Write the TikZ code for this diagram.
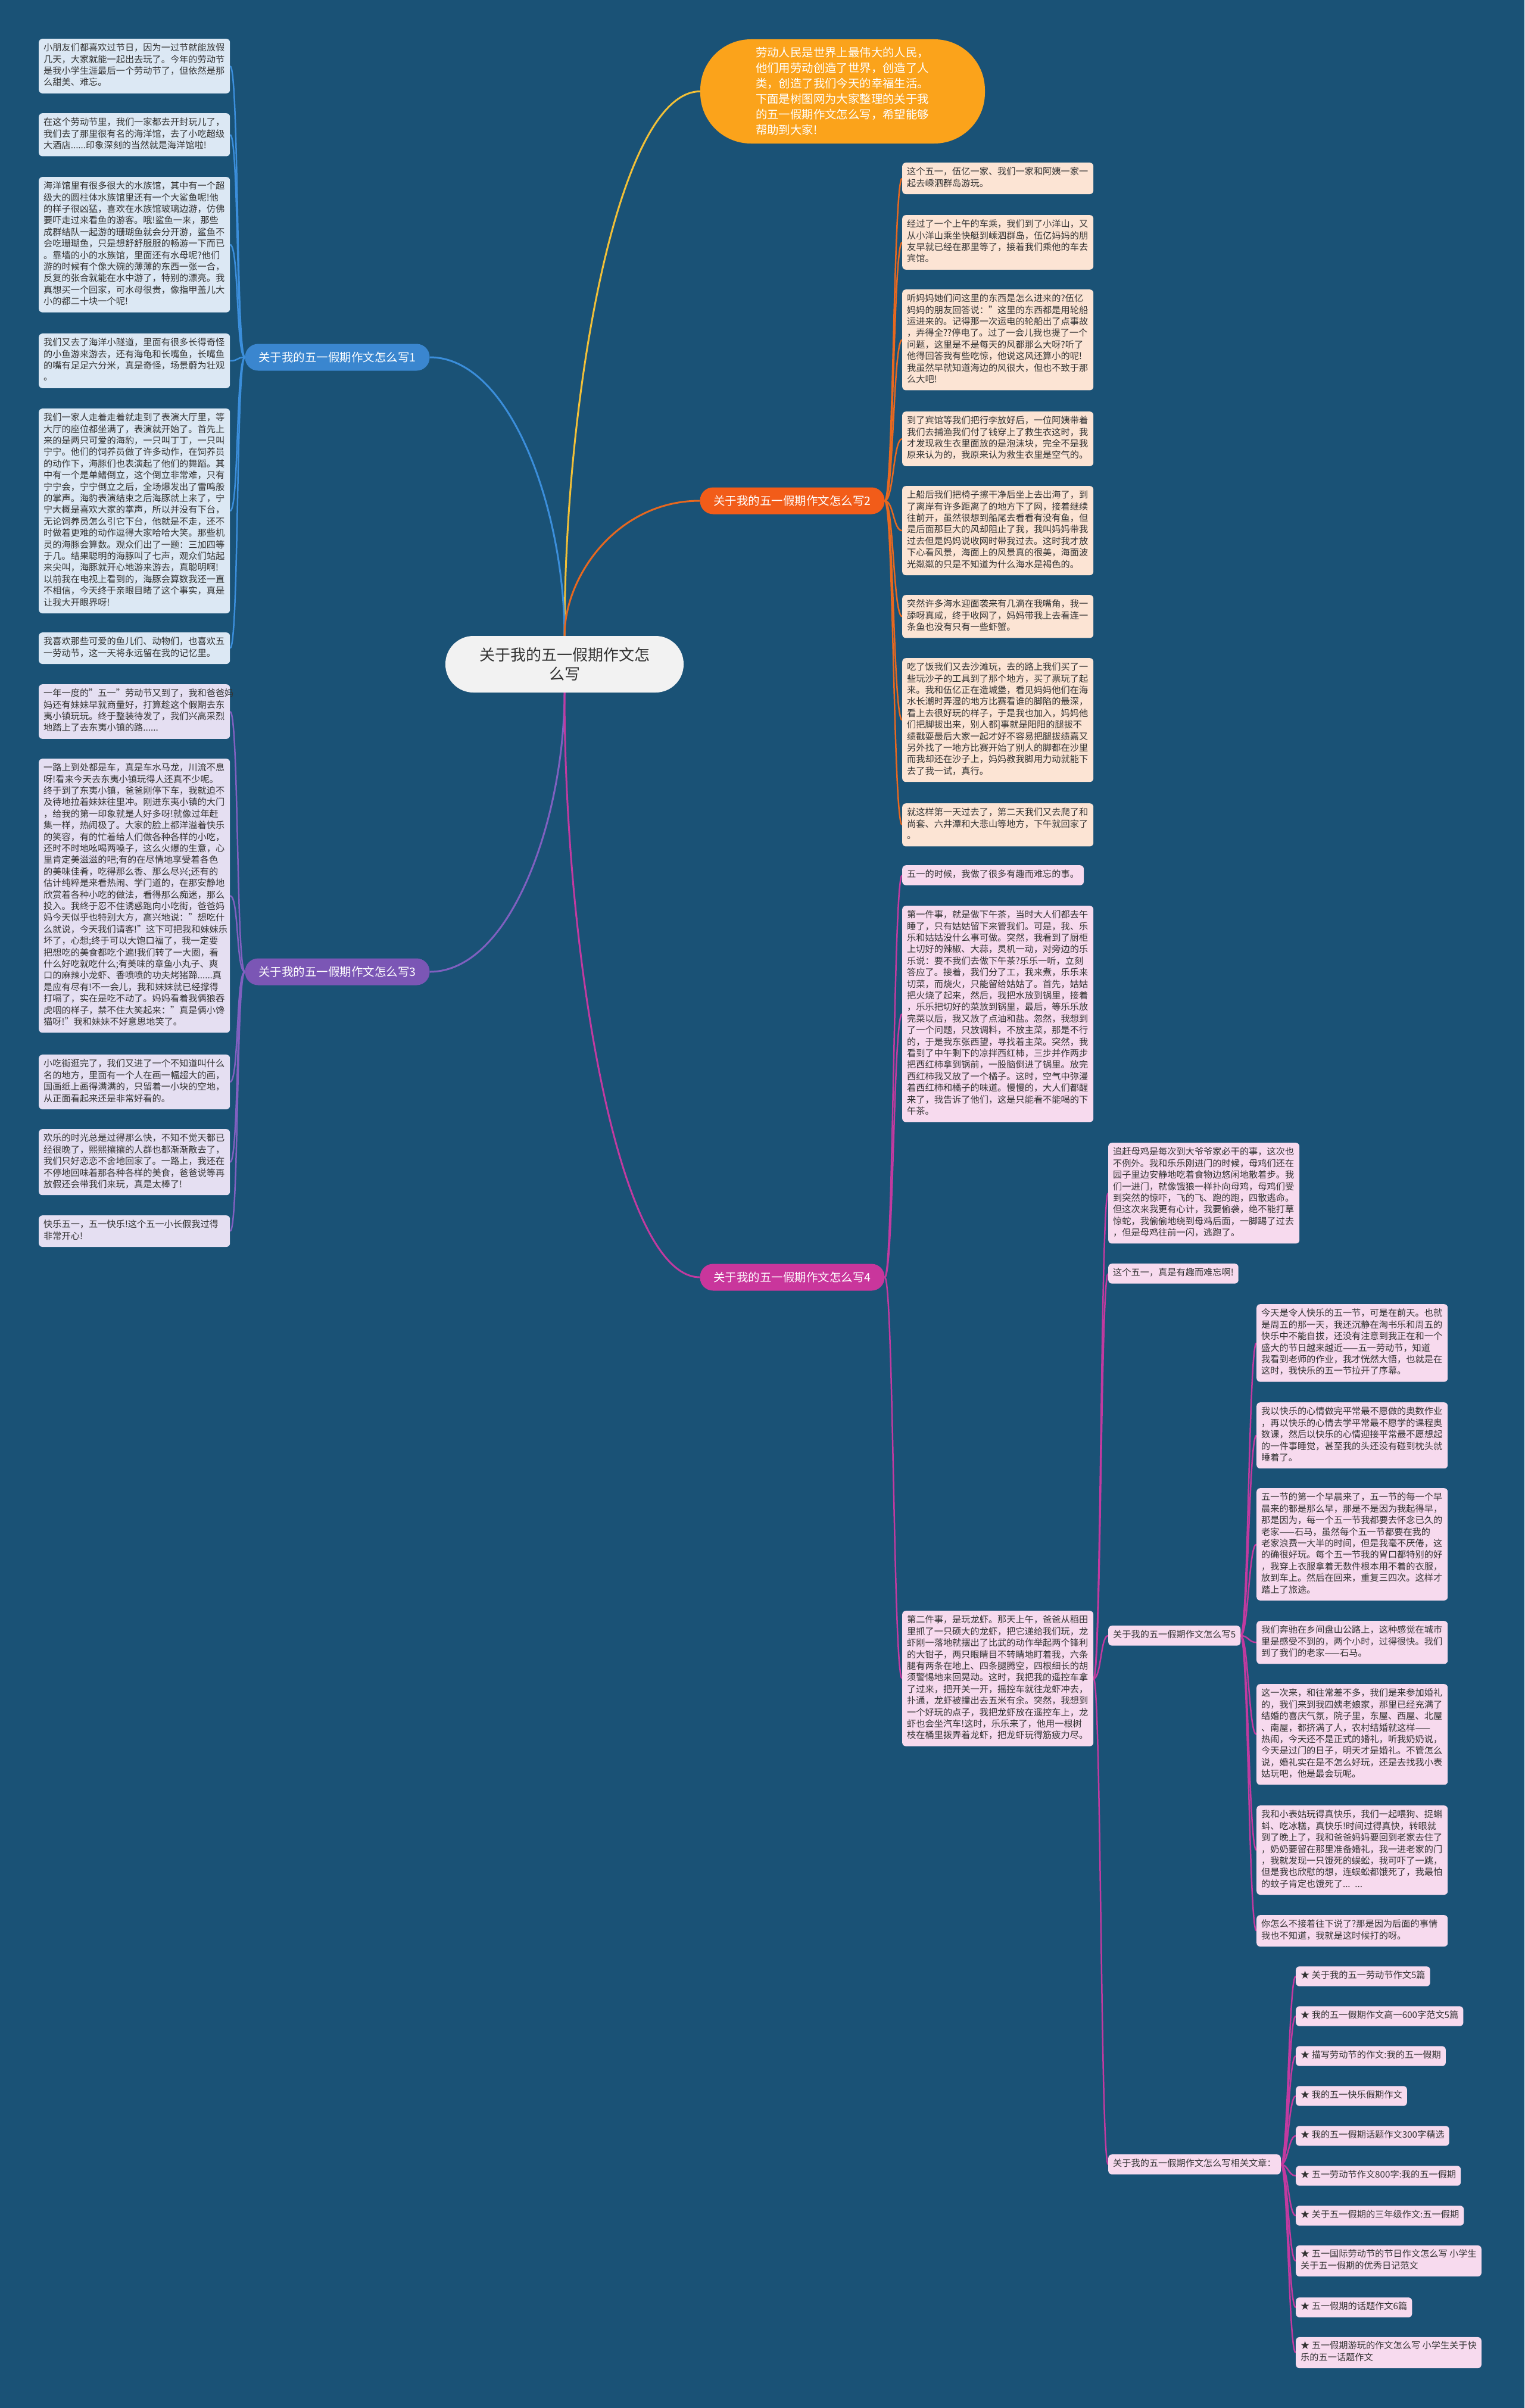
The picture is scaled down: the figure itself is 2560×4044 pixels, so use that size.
\documentclass[tikz,border=0pt]{standalone}
\usepackage{fontspec}
\setmainfont{Noto Sans CJK SC}
\usetikzlibrary{backgrounds}
\definecolor{bgblue}{HTML}{1A5276}
\definecolor{rootgray}{HTML}{F2F2F2}
\definecolor{txtdark}{HTML}{333333}
\definecolor{introfill}{HTML}{FBA31B}
\definecolor{introline}{HTML}{F2C037}
\definecolor{node1}{HTML}{3A86CF}
\definecolor{node2}{HTML}{F25C19}
\definecolor{node3}{HTML}{7B56B5}
\definecolor{node4}{HTML}{C9369C}
\definecolor{line1}{HTML}{3B8EDB}
\definecolor{line2}{HTML}{E8681F}
\definecolor{line3}{HTML}{8060C0}
\definecolor{line4}{HTML}{C23AA0}
\definecolor{box1}{HTML}{DCE8F4}
\definecolor{box2}{HTML}{FCE4D4}
\definecolor{box3}{HTML}{E5DFF2}
\definecolor{box4}{HTML}{F7DAEE}
\tikzset{
  txt/.style={fill=#1, text=txtdark, rounded corners=6pt, inner xsep=8pt, inner ysep=7pt,
    font=\fontsize{15.2}{19.4}\selectfont,
    execute at begin node=\strut, execute at end node=\strut},
  para/.style={txt=#1, text width=305pt, align=left, anchor=north west},
  oneline/.style={txt=#1, anchor=north west},
  star/.style={txt=box4, align=left, anchor=west},
  branch/.style={fill=#1, text=white, rounded corners=22pt, minimum width=310pt,
    minimum height=45pt, font=\fontsize{19.5}{24}\selectfont},
  main/.style={draw=#1, line width=3pt},
  link/.style={draw=#1, line width=2.5pt},
}
\begin{document}
\begin{tikzpicture}
\useasboundingbox (0,0) rectangle (2560pt,-4044pt);
\begin{scope}[x=1pt,y=1pt]
% root and intro
\node[fill=rootgray, text=txtdark, rounded corners=47pt, minimum width=400pt, minimum height=95pt,
  align=center, font=\fontsize{26}{32}\selectfont] (root) at (948,-1115.5)
  {关于我的五一假期作文怎\\么写};
\node[fill=introfill, text=white, rounded corners=85pt, minimum width=478pt, minimum height=175pt,
  text width=292pt, align=left, font=\fontsize{19.4}{26}\selectfont] (intro) at (1415,-153.5)
  {劳动人民是世界上最伟大的人民，\\他们用劳动创造了世界，创造了人\\类，创造了我们今天的幸福生活。\\下面是树图网为大家整理的关于我\\的五一假期作文怎么写，希望能够\\帮助到大家!};

% branches
\node[branch=node1] (b1) at (566.5,-600) {关于我的五一假期作文怎么写1};
\node[branch=node2] (b2) at (1330.5,-841) {关于我的五一假期作文怎么写2};
\node[branch=node3] (b3) at (566.5,-1632) {关于我的五一假期作文怎么写3};
\node[branch=node4] (b4) at (1330.5,-2145) {关于我的五一假期作文怎么写4};

% branch 1
\node[para=box1] (l1) at (65,-65) {小朋友们都喜欢过节日，因为一过节就能放假\\几天，大家就能一起出去玩了。今年的劳动节\\是我小学生涯最后一个劳动节了，但依然是那\\么甜美、难忘。};
\node[para=box1] (l2) at (65,-190) {在这个劳动节里，我们一家都去开封玩儿了，\\我们去了那里很有名的海洋馆，去了小吃超级\\大酒店......印象深刻的当然就是海洋馆啦!};
\node[para=box1] (l3) at (65,-297) {海洋馆里有很多很大的水族馆，其中有一个超\\级大的圆柱体水族馆里还有一个大鲨鱼呢!他\\的样子很凶猛，喜欢在水族馆玻璃边游，仿佛\\要吓走过来看鱼的游客。哦!鲨鱼一来，那些\\成群结队一起游的珊瑚鱼就会分开游，鲨鱼不\\会吃珊瑚鱼，只是想舒舒服服的畅游一下而已\\。靠墙的小的水族馆，里面还有水母呢?他们\\游的时候有个像大碗的薄薄的东西一张一合，\\反复的张合就能在水中游了，特别的漂亮。我\\真想买一个回家，可水母很贵，像指甲盖儿大\\小的都二十块一个呢!};
\node[para=box1] (l4) at (65,-560) {我们又去了海洋小隧道，里面有很多长得奇怪\\的小鱼游来游去，还有海龟和长嘴鱼，长嘴鱼\\的嘴有足足六分米，真是奇怪，场景蔚为壮观\\。};
\node[para=box1] (l5) at (65,-686) {我们一家人走着走着就走到了表演大厅里，等\\大厅的座位都坐满了，表演就开始了。首先上\\来的是两只可爱的海豹，一只叫丁丁，一只叫\\宁宁。他们的饲养员做了许多动作，在饲养员\\的动作下，海豚们也表演起了他们的舞蹈。其\\中有一个是单鳍倒立，这个倒立非常难，只有\\宁宁会，宁宁倒立之后，全场爆发出了雷鸣般\\的掌声。海豹表演结束之后海豚就上来了，宁\\宁大概是喜欢大家的掌声，所以并没有下台，\\无论饲养员怎么引它下台，他就是不走，还不\\时做着更难的动作逗得大家哈哈大笑。那些机\\灵的海豚会算数。观众们出了一题：三加四等\\于几。结果聪明的海豚叫了七声，观众们站起\\来尖叫，海豚就开心地游来游去，真聪明啊!\\以前我在电视上看到的，海豚会算数我还一直\\不相信，今天终于亲眼目睹了这个事实，真是\\让我大开眼界呀!};
\node[para=box1] (l6) at (65,-1062) {我喜欢那些可爱的鱼儿们、动物们，也喜欢五\\一劳动节，这一天将永远留在我的记忆里。};

% branch 2
\node[para=box2] (r1) at (1515,-273) {这个五一，伍亿一家、我们一家和阿姨一家一\\起去嵊泗群岛游玩。};
\node[para=box2] (r2) at (1515,-361) {经过了一个上午的车乘，我们到了小洋山，又\\从小洋山乘坐快艇到嵊泗群岛，伍亿妈妈的朋\\友早就已经在那里等了，接着我们乘他的车去\\宾馆。};
\node[para=box2] (r3) at (1515,-486) {听妈妈她们问这里的东西是怎么进来的?伍亿\\妈妈的朋友回答说："这里的东西都是用轮船\\运进来的。记得那一次运电的轮船出了点事故\\，弄得全??停电了。过了一会儿我也提了一个\\问题，这里是不是每天的风都那么大呀?听了\\他得回答我有些吃惊，他说这风还算小的呢!\\我虽然早就知道海边的风很大，但也不致于那\\么大吧!};
\node[para=box2] (r4) at (1515,-691) {到了宾馆等我们把行李放好后，一位阿姨带着\\我们去捕渔我们付了钱穿上了救生衣这时，我\\才发现救生衣里面放的是泡沫块，完全不是我\\原来认为的，我原来认为救生衣里是空气的。};
\node[para=box2] (r5) at (1515,-816) {上船后我们把椅子擦干净后坐上去出海了，到\\了离岸有许多距离了的地方下了网，接着继续\\往前开，虽然很想到船尾去看看有没有鱼，但\\是后面那巨大的风却阻止了我，我叫妈妈带我\\过去但是妈妈说收网时带我过去。这时我才放\\下心看风景，海面上的风景真的很美，海面波\\光粼粼的只是不知道为什么海水是褐色的。};
\node[para=box2] (r6) at (1515,-999) {突然许多海水迎面袭来有几滴在我嘴角，我一\\舔呀真咸，终于收网了，妈妈带我上去看连一\\条鱼也没有只有一些虾蟹。};
\node[para=box2] (r7) at (1515,-1105) {吃了饭我们又去沙滩玩，去的路上我们买了一\\些玩沙子的工具到了那个地方，买了票玩了起\\来。我和伍亿正在造城堡，看见妈妈他们在海\\水长潮时弄湿的地方比赛看谁的脚陷的最深，\\看上去很好玩的样子，于是我也加入，妈妈他\\们把脚拔出来，别人都]事就是阳阳的腿拔不\\绩戳耍最后大家一起才好不容易把腿拔绩嘉又\\另外找了一地方比赛开始了别人的脚都在沙里\\而我却还在沙子上，妈妈教我脚用力动就能下\\去了我一试，真行。};
\node[para=box2] (r8) at (1515,-1349) {就这样第一天过去了，第二天我们又去爬了和\\尚套、六井潭和大悲山等地方，下午就回家了\\。};

% branch 3
\node[para=box3] (m1) at (65,-1149) {一年一度的"五一"劳动节又到了，我和爸爸妈\\妈还有妹妹早就商量好，打算趁这个假期去东\\夷小镇玩玩。终于整装待发了，我们兴高采烈\\地踏上了去东夷小镇的路......};
\node[para=box3] (m2) at (65,-1274) {一路上到处都是车，真是车水马龙，川流不息\\呀!看来今天去东夷小镇玩得人还真不少呢。\\终于到了东夷小镇，爸爸刚停下车，我就迫不\\及待地拉着妹妹往里冲。刚进东夷小镇的大门\\，给我的第一印象就是人好多呀!就像过年赶\\集一样，热闹极了。大家的脸上都洋溢着快乐\\的笑容，有的忙着给人们做各种各样的小吃，\\还时不时地吆喝两嗓子，这么火爆的生意，心\\里肯定美滋滋的吧;有的在尽情地享受着各色\\的美味佳肴，吃得那么香、那么尽兴;还有的\\估计纯粹是来看热闹、学门道的，在那安静地\\欣赏着各种小吃的做法，看得那么痴迷，那么\\投入。我终于忍不住诱惑跑向小吃街，爸爸妈\\妈今天似乎也特别大方，高兴地说："想吃什\\么就说，今天我们请客!"这下可把我和妹妹乐\\坏了，心想;终于可以大饱口福了，我一定要\\把想吃的美食都吃个遍!我们转了一大圈，看\\什么好吃就吃什么;有美味的章鱼小丸子、爽\\口的麻辣小龙虾、香喷喷的功夫烤猪蹄......真\\是应有尽有!不一会儿，我和妹妹就已经撑得\\打嗝了，实在是吃不动了。妈妈看着我俩狼吞\\虎咽的样子，禁不住大笑起来："真是俩小馋\\猫呀!"我和妹妹不好意思地笑了。};
\node[para=box3] (m3) at (65,-1771) {小吃街逛完了，我们又进了一个不知道叫什么\\名的地方，里面有一个人在画一幅超大的画，\\国画纸上画得满满的，只留着一小块的空地，\\从正面看起来还是非常好看的。};
\node[para=box3] (m4) at (65,-1896) {欢乐的时光总是过得那么快，不知不觉天都已\\经很晚了，熙熙攘攘的人群也都渐渐散去了，\\我们只好恋恋不舍地回家了。一路上，我还在\\不停地回味着那各种各样的美食，爸爸说等再\\放假还会带我们来玩，真是太棒了!};
\node[para=box3] (m5) at (65,-2041) {快乐五一，五一快乐!这个五一小长假我过得\\非常开心!};

% branch 4
\node[oneline=box4] (f1) at (1515,-1453) {五一的时候，我做了很多有趣而难忘的事。};
\node[para=box4] (f2) at (1515,-1521) {第一件事，就是做下午茶，当时大人们都去午\\睡了，只有姑姑留下来管我们。可是，我、乐\\乐和姑姑没什么事可做。突然，我看到了厨柜\\上切好的辣椒、大蒜，灵机一动，对旁边的乐\\乐说：要不我们去做下午茶?乐乐一听，立刻\\答应了。接着，我们分了工，我来煮，乐乐来\\切菜，而烧火，只能留给姑姑了。首先，姑姑\\把火烧了起来，然后，我把水放到锅里，接着\\，乐乐把切好的菜放到锅里，最后，等乐乐放\\完菜以后，我又放了点油和盐。忽然，我想到\\了一个问题，只放调料，不放主菜，那是不行\\的，于是我东张西望，寻找着主菜。突然，我\\看到了中午剩下的凉拌西红柿，三步并作两步\\把西红柿拿到锅前，一股脑倒进了锅里。放完\\西红柿我又放了一个橘子。这时，空气中弥漫\\着西红柿和橘子的味道。慢慢的，大人们都醒\\来了，我告诉了他们，这是只能看不能喝的下\\午茶。};
\node[para=box4] (f3) at (1515,-2705) {第二件事，是玩龙虾。那天上午，爸爸从稻田\\里抓了一只硕大的龙虾，把它递给我们玩，龙\\虾刚一落地就摆出了比武的动作举起两个锋利\\的大钳子，两只眼睛目不转睛地盯着我，六条\\腿有两条在地上、四条腿腾空，四根细长的胡\\须警惕地来回晃动。这时，我把我的遥控车拿\\了过来，把开关一开，摇控车就往龙虾冲去，\\扑通，龙虾被撞出去五米有余。突然，我想到\\一个好玩的点子，我把龙虾放在遥控车上，龙\\虾也会坐汽车!这时，乐乐来了，他用一根树\\枝在桶里拨弄着龙虾，把龙虾玩得筋疲力尽。};

\node[para=box4] (g1) at (1861,-1919) {追赶母鸡是每次到大爷爷家必干的事，这次也\\不例外。我和乐乐刚进门的时候，母鸡们还在\\园子里边安静地吃着食物边悠闲地散着步。我\\们一进门，就像饿狼一样扑向母鸡，母鸡们受\\到突然的惊吓，飞的飞、跑的跑，四散逃命。\\但这次来我更有心计，我要偷袭，绝不能打草\\惊蛇，我偷偷地绕到母鸡后面，一脚踢了过去\\，但是母鸡往前一闪，逃跑了。};
\node[oneline=box4] (g2) at (1861,-2122) {这个五一，真是有趣而难忘啊!};
\node[oneline=box4] (g3) at (1861,-2730) {关于我的五一假期作文怎么写5};
\node[oneline=box4] (g4) at (1861,-3618) {关于我的五一假期作文怎么写相关文章：};

\node[para=box4] (h1) at (2110,-2190) {今天是令人快乐的五一节，可是在前天。也就\\是周五的那一天，我还沉静在淘书乐和周五的\\快乐中不能自拔，还没有注意到我正在和一个\\盛大的节日越来越近——五一劳动节，知道\\我看到老师的作业，我才恍然大悟，也就是在\\这时，我快乐的五一节拉开了序幕。};
\node[para=box4] (h2) at (2110,-2355) {我以快乐的心情做完平常最不愿做的奥数作业\\，再以快乐的心情去学平常最不愿学的课程奥\\数课，然后以快乐的心情迎接平常最不愿想起\\的一件事睡觉，甚至我的头还没有碰到枕头就\\睡着了。};
\node[para=box4] (h3) at (2110,-2499) {五一节的第一个早晨来了，五一节的每一个早\\晨来的都是那么早，那是不是因为我起得早，\\那是因为，每一个五一节我都要去怀念已久的\\老家——石马，虽然每个五一节都要在我的\\老家浪费一大半的时间，但是我毫不厌倦，这\\的确很好玩。每个五一节我的胃口都特别的好\\，我穿上衣服拿着无数件根本用不着的衣服，\\放到车上。然后在回来，重复三四次。这样才\\踏上了旅途。};
\node[para=box4] (h4) at (2110,-2722) {我们奔驰在乡间盘山公路上，这种感觉在城市\\里是感受不到的，两个小时，过得很快。我们\\到了我们的老家——石马。};
\node[para=box4] (h5) at (2110,-2828) {这一次来，和往常差不多，我们是来参加婚礼\\的，我们来到我四姨老娘家，那里已经充满了\\结婚的喜庆气氛，院子里，东屋、西屋、北屋\\、南屋，都挤满了人，农村结婚就这样——\\热闹，今天还不是正式的婚礼，听我奶奶说，\\今天是过门的日子，明天才是婚礼。不管怎么\\说，婚礼实在是不怎么好玩，还是去找我小表\\姑玩吧，他是最会玩呢。};
\node[para=box4] (h6) at (2110,-3032) {我和小表姑玩得真快乐，我们一起喂狗、捉蝌\\蚪、吃冰糕，真快乐!时间过得真快，转眼就\\到了晚上了，我和爸爸妈妈要回到老家去住了\\，奶奶要留在那里准备婚礼，我一进老家的门\\，我就发现一只饿死的蜈蚣，我可吓了一跳，\\但是我也欣慰的想，连蜈蚣都饿死了，我最怕\\的蚊子肯定也饿死了... ...};
\node[para=box4] (h7) at (2110,-3216) {你怎么不接着往下说了?那是因为后面的事情\\我也不知道，我就是这时候打的呀。};

\foreach \y/\t [count=\i] in {3319/{★ 关于我的五一劳动节作文5篇},
    3386/{★ 我的五一假期作文高一600字范文5篇},
    3453/{★ 描写劳动节的作文:我的五一假期},
    3520/{★ 我的五一快乐假期作文},
    3587/{★ 我的五一假期话题作文300字精选},
    3654/{★ 五一劳动节作文800字:我的五一假期},
    3721/{★ 关于五一假期的三年级作文:五一假期},
    3797/{★ 五一国际劳动节的节日作文怎么写 小学生\\关于五一假期的优秀日记范文},
    3875/{★ 五一假期的话题作文6篇},
    3951/{★ 五一假期游玩的作文怎么写 小学生关于快\\乐的五一话题作文}}
  \node[star] (s\i) at (2176,-\y) {\t};

% connectors
\begin{pgfonlayer}{background}
  \fill[bgblue] (0,0) rectangle (2560,-4044);
  \draw[main=introline] (root.north) to[out=90,in=180,out distance=410pt,in distance=137pt] (intro.west);
  \draw[main=line1] (root.north) to[out=90,in=0,out distance=210pt,in distance=136pt] (b1.east);
  \draw[main=line2] (root.north) to[out=90,in=180,out distance=102pt,in distance=137pt] (b2.west);
  \draw[main=line3] (root.south) to[out=-90,in=0,out distance=211pt,in distance=136pt] (b3.east);
  \draw[main=line4] (root.south) to[out=-90,in=180,out distance=440pt,in distance=137pt] (b4.west);
  \foreach \i in {1,...,6}
    \draw[link=line1] (b1.west) to[out=180,in=0,distance=15pt] (l\i.east);
  \foreach \i in {1,...,8}
    \draw[link=line2] (b2.east) to[out=0,in=180,distance=15pt] (r\i.west);
  \foreach \i in {1,...,5}
    \draw[link=line3] (b3.west) to[out=180,in=0,distance=15pt] (m\i.east);
  \foreach \i in {1,...,3}
    \draw[link=line4] (b4.east) to[out=0,in=180,distance=15pt] (f\i.west);
  \foreach \i in {1,...,4}
    \draw[link=line4] (f3.east) to[out=0,in=180,distance=13pt] (g\i.west);
  \foreach \i in {1,...,7}
    \draw[link=line4] (g3.east) to[out=0,in=180,distance=13pt] (h\i.west);
  \foreach \i in {1,...,10}
    \draw[link=line4] (g4.east) to[out=0,in=180,distance=12pt] (s\i.west);
\end{pgfonlayer}
\end{scope}
\end{tikzpicture}
\end{document}
